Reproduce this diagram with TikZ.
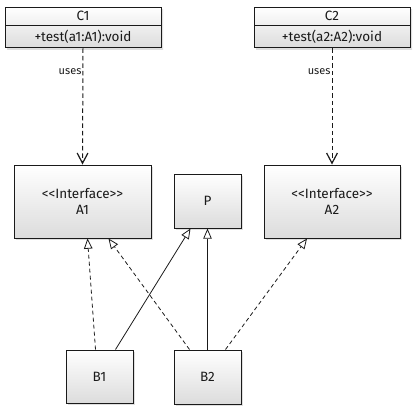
\documentclass[tikz,border=0pt]{standalone}
\usepackage{fontspec}
\setmainfont{Fira Sans}
\usepackage{tikz}
\usetikzlibrary{positioning, arrows.meta, calc, shadows, shapes.multipart}
\definecolor{ink}{HTML}{1A1A1A}
\definecolor{boxtop}{HTML}{FFFFFF}
\definecolor{boxbot}{HTML}{DCDCDC}
\tikzset{
  umlbox/.style={draw=ink, line width=1pt, top color=boxtop, bottom color=boxbot,
                 drop shadow={opacity=0.25, shadow xshift=2pt, shadow yshift=-2pt},
                 align=center, text=ink, font=\fontsize{13.5}{16}\selectfont},
  classbox/.style={umlbox, rectangle split, rectangle split parts=2,
                   rectangle split part align={center}, text width=150pt,
                   inner xsep=3pt, inner ysep=4pt},
  uses/.style={-{Straight Barb[length=3.6mm, width=3.8mm, line width=1.2pt]}, draw=ink,
               dash pattern=on 4.5pt off 3pt, line width=1pt},
  realize/.style={-{Triangle[open, length=3.6mm, width=3mm, fill=white]}, draw=ink,
                  dash pattern=on 4pt off 3pt, line width=0.8pt},
  extend/.style={-{Triangle[open, length=3.6mm, width=3mm, fill=white]}, draw=ink,
                 line width=0.8pt},
}

\begin{document}
\begin{tikzpicture}[x=1pt, y=-1pt]
  \useasboundingbox (0,0) rectangle (415,410);
  % classes on top
  \node[classbox] (c1) at (83,27.5) {C1\nodepart{two}+test(a1:A1):void};
  \node[classbox] (c2) at (332,27.5) {C2\nodepart{two}+test(a2:A2):void};
  % interfaces and parent
  \node[umlbox, minimum width=137pt, minimum height=73pt] (a1) at (82.5,201.5)
    {{<}{<}Interface{>}{>}\\A1};
  \node[umlbox, minimum width=67pt, minimum height=54pt] (p) at (207.5,201) {P};
  \node[umlbox, minimum width=136pt, minimum height=73pt] (a2) at (332,201.5)
    {{<}{<}Interface{>}{>}\\A2};
  % implementations
  \node[umlbox, minimum width=67pt, minimum height=53pt] (b1) at (99.5,376.5) {B1};
  \node[umlbox, minimum width=67pt, minimum height=54pt] (b2) at (207.5,377) {B2};
  % connectors
  \draw[uses] (c1.south) -- node[left, pos=0.2, font=\fontsize{11}{12}\selectfont, text=ink,
    inner sep=1pt] (u1) {uses} (a1.north);
  \draw[uses] (c2.south) -- node[left, pos=0.2, font=\fontsize{11}{12}\selectfont, text=ink,
    inner sep=1pt] (u2) {uses} (a2.north);
  \draw[realize] ([xshift=-4pt]b1.north) -- ([xshift=5pt]a1.south);
  \draw[extend] ([xshift=16pt]b1.north) -- ([xshift=-17pt]p.south);
  \draw[realize] ([xshift=-18pt]b2.north) -- ([xshift=26pt]a1.south);
  \draw[extend] (b2.north) -- (p.south);
  \draw[realize] ([xshift=18pt]b2.north) -- ([xshift=-25pt]a2.south);
\end{tikzpicture}
\end{document}
